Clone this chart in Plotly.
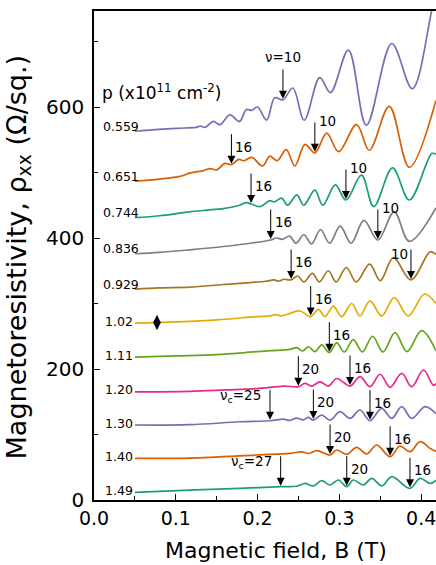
import numpy as np
import plotly.graph_objects as go

# ---------------- data ----------------
p_labels = ["0.559", "0.651", "0.744", "0.836", "0.929", "1.02", "1.11", "1.20", "1.30", "1.40", "1.49"]

B0 = [0.050, 0.080, 0.110, 0.125, 0.130, 0.136, 0.146, 0.154, 0.166, 0.178, 0.186, 0.193, 0.200, 0.211, 0.221, 0.231, 0.243, 0.257, 0.276, 0.289, 0.311, 0.333, 0.364, 0.389, 0.413, 0.425]
R0 = [563, 566, 568, 569, 571, 569, 578, 573, 588, 578, 596, 595, 600, 580, 614, 611, 629, 580, 645, 622, 687, 572, 697, 628, 748, 820]

B1 = [0.050, 0.080, 0.105, 0.117, 0.134, 0.142, 0.150, 0.160, 0.168, 0.177, 0.183, 0.193, 0.206, 0.215, 0.224, 0.235, 0.2455, 0.258, 0.270, 0.2845, 0.299, 0.321, 0.3365, 0.361, 0.3855, 0.418]
R1 = [487, 490, 494, 499, 503, 506, 504, 514, 512, 520, 518, 523, 510, 525, 518, 535, 510, 543, 530, 560, 532, 573, 534, 601, 508, 610]

B2 = [0.050, 0.080, 0.105, 0.117, 0.142, 0.158, 0.178, 0.186, 0.192, 0.203, 0.215, 0.220, 0.2295, 0.2367, 0.248, 0.2564, 0.270, 0.2797, 0.295, 0.308, 0.327, 0.342, 0.365, 0.3855, 0.413, 0.418]
R2 = [431, 434, 438, 440, 443, 445, 450, 454, 452, 448, 457, 455, 461, 450, 466, 450, 473, 450, 481, 458, 496, 448, 507, 458, 529, 528]

B3 = [0.050, 0.080, 0.117, 0.158, 0.191, 0.216, 0.223, 0.2305, 0.239, 0.247, 0.2565, 0.266, 0.277, 0.288, 0.301, 0.3143, 0.330, 0.347, 0.367, 0.3855, 0.418]
R3 = [376, 378, 382, 387, 392, 397, 400, 398, 403, 392, 405, 391, 413, 392, 418, 392, 427, 397, 440, 395, 446]

B4 = [0.050, 0.080, 0.117, 0.158, 0.191, 0.210, 0.220, 0.226, 0.232, 0.241, 0.249, 0.2565, 0.267, 0.2755, 0.2865, 0.296, 0.3085, 0.3205, 0.337, 0.350, 0.366, 0.3875, 0.411, 0.418]
R4 = [322, 324, 325, 329, 332, 334, 336, 334, 337, 336, 342, 333, 346, 333, 350, 333, 355, 333, 360, 335, 370, 336, 379, 375]

B5 = [0.050, 0.100, 0.150, 0.199, 0.215, 0.222, 0.229, 0.2396, 0.2518, 0.2649, 0.2742, 0.2824, 0.2926, 0.3028, 0.315, 0.3252, 0.3374, 0.3517, 0.367, 0.3843, 0.404, 0.418]
R5 = [270, 272, 275, 280, 281, 283, 281, 285, 288.6, 280, 291, 280, 296, 280, 300, 281, 304, 281, 309, 281, 314.5, 300]

B6 = [0.050, 0.100, 0.150, 0.199, 0.216, 0.2396, 0.2478, 0.2551, 0.262, 0.2702, 0.2784, 0.2877, 0.2967, 0.306, 0.317, 0.328, 0.3406, 0.3533, 0.368, 0.3826, 0.4005, 0.418]
R6 = [218, 220, 222, 226.5, 228, 230, 232.6, 227.5, 234, 226.5, 236.7, 225, 240, 226, 245, 226, 250, 226, 255.5, 226.5, 258.5, 228]

B7 = [0.050, 0.117, 0.160, 0.199, 0.232, 0.2498, 0.258, 0.2661, 0.2763, 0.2865, 0.2967, 0.313, 0.3252, 0.3374, 0.3497, 0.362, 0.3762, 0.3884, 0.4027, 0.415, 0.418]
R7 = [165, 166, 168, 170, 174, 173, 178, 174, 180.5, 174, 185.5, 174, 188.5, 173, 192, 172, 193.5, 173, 198.5, 175, 178]

B8 = [0.050, 0.117, 0.1785, 0.2152, 0.2315, 0.2395, 0.2475, 0.256, 0.262, 0.2682, 0.2784, 0.2886, 0.3008, 0.313, 0.3252, 0.3374, 0.3517, 0.364, 0.3762, 0.3884, 0.4047, 0.418]
R8 = [114.5, 115, 119.5, 121, 123.5, 121.5, 125, 122.5, 126, 122, 129.7, 122, 134.8, 124.6, 137.4, 121, 140, 124.6, 142.5, 124.6, 142.5, 132]

B9 = [0.050, 0.117, 0.199, 0.240, 0.2535, 0.263, 0.2722, 0.2886, 0.2967, 0.3089, 0.3211, 0.3334, 0.3456, 0.362, 0.374, 0.3863, 0.3986, 0.4108, 0.418]
R9 = [63.6, 64, 68.7, 71.2, 73.5, 71, 75.5, 68.7, 76.3, 69.7, 80.4, 70.2, 84, 66.1, 82.4, 73.8, 89, 78.8, 74]

B10 = [0.050, 0.117, 0.1785, 0.2282, 0.248, 0.258, 0.268, 0.2784, 0.2886, 0.2987, 0.309, 0.317, 0.3293, 0.3395, 0.352, 0.364, 0.3863, 0.3986, 0.411, 0.418]
R10 = [11.7, 15.2, 17.8, 20.3, 21, 25.4, 21.5, 29.5, 22.9, 30.5, 20.3, 30.5, 22.9, 33, 21.5, 35.6, 17.8, 33, 25.4, 30]

B_all = [B0, B1, B2, B3, B4, B5, B6, B7, B8, B9, B10]
R_all = [R0, R1, R2, R3, R4, R5, R6, R7, R8, R9, R10]

# filling-factor arrows: (curve index, field B, label, label placement)
arrows = [
    (0, 0.231, "ν=10", "top"),
    (1, 0.168, "16", "right"),
    (1, 0.270, "10", "right_high"),
    (2, 0.192, "16", "right"),
    (2, 0.308, "10", "right_high"),
    (3, 0.216, "16", "right"),
    (3, 0.347, "10", "right_high"),
    (4, 0.241, "16", "right"),
    (4, 0.3875, "10", "left_high"),
    (5, 0.2649, "16", "right"),
    (6, 0.2877, "16", "right"),
    (7, 0.2498, "20", "right"),
    (7, 0.313, "16", "right"),
    (8, 0.2152, "ν<sub>c</sub>=25", "left"),
    (8, 0.2682, "20", "right"),
    (8, 0.3374, "16", "right"),
    (9, 0.2886, "20", "right"),
    (9, 0.362, "16", "right"),
    (10, 0.2282, "ν<sub>c</sub>=27", "left"),
    (10, 0.309, "20", "right"),
    (10, 0.3863, "16", "right"),
]

diamond_curve = 5
diamond_B = 0.077

x_ticks = [0.0, 0.1, 0.2, 0.3, 0.4]
y_ticks = [0, 200, 400, 600]

# ---------------- styling ----------------
colors = ["#7570b3", "#d95f02", "#1b9e77", "#7f7f7f", "#a6761d", "#e6ab02",
          "#66a61e", "#e7298a", "#7570b3", "#d95f02", "#1b9e77"]
FONT = "DejaVu Sans"

fig = go.Figure()
for i in range(len(B_all)):
    fig.add_trace(go.Scatter(
        x=B_all[i], y=R_all[i], mode="lines",
        line=dict(color=colors[i], width=1.7, shape="spline", smoothing=1.0),
        hoverinfo="skip", showlegend=False))

fig.add_trace(go.Scatter(
    x=[diamond_B], y=[float(np.interp(diamond_B, B_all[diamond_curve], R_all[diamond_curve]))],
    mode="markers", marker=dict(symbol="diamond-tall", size=11, color="black"),
    hoverinfo="skip", showlegend=False))

annotations = []
# curve labels
for i, lab in enumerate(p_labels):
    upper = lab.startswith("0.")
    annotations.append(dict(
        x=B_all[i][0], y=R_all[i][0], xref="x", yref="y", text=lab, showarrow=False,
        xanchor="right", yanchor="middle", xshift=6 if upper else 0, yshift=5 if upper else 2,
        font=dict(family=FONT, size=12.5, color="black")))

L = 32
for ci, b, lab, side in arrows:
    tip = float(np.interp(b, B_all[ci], R_all[ci]))
    annotations.append(dict(
        x=b, y=tip, xref="x", yref="y", text="", showarrow=True,
        ax=0, ay=-L, axref="pixel", ayref="pixel",
        arrowhead=2, arrowsize=1.6, arrowwidth=1, arrowcolor="black", standoff=1))
    if side == "right":
        kw = dict(xanchor="left", yanchor="top", xshift=2, yshift=L - 4)
    elif side == "right_high":
        kw = dict(xanchor="left", yanchor="middle", xshift=2, yshift=L)
    elif side == "left_high":
        kw = dict(xanchor="right", yanchor="middle", xshift=-1, yshift=L - 6)
    elif side == "left":
        kw = dict(xanchor="right", yanchor="middle", xshift=-7, yshift=L - 7)
    else:
        kw = dict(xanchor="center", yanchor="bottom", xshift=0, yshift=L + 1)
    annotations.append(dict(x=b, y=tip, xref="x", yref="y", text=lab, showarrow=False,
                            font=dict(family=FONT, size=13.5, color="black"), **kw))

# density header
annotations.append(dict(
    x=0.0175, y=0.834, xref="paper", yref="paper", xanchor="left", yanchor="middle",
    text="p (x10<sup>11</sup> cm<sup>-2</sup>)", showarrow=False,
    font=dict(family=FONT, size=17, color="black")))
# axis titles
annotations.append(dict(
    x=0.532, y=0, xref="paper", yref="paper", xanchor="center", yanchor="middle", yshift=-50,
    text="Magnetic field, B (T)", showarrow=False,
    font=dict(family=FONT, size=22, color="black")))
annotations.append(dict(
    x=0, y=0.496, xref="paper", yref="paper", xanchor="center", yanchor="middle", xshift=-76,
    text="Magnetoresistivity, ρ<sub>xx</sub> (Ω/sq.)", showarrow=False, textangle=-90,
    font=dict(family=FONT, size=27, color="black")))

fig.update_layout(
    width=436, height=565,
    margin=dict(l=94, r=0, t=11, b=65),
    plot_bgcolor="white", paper_bgcolor="white",
    font=dict(family=FONT, color="black"),
    hovermode=False,
    annotations=annotations,
    xaxis=dict(range=[0, 0.4181], showline=True, linecolor="black", linewidth=1.5, mirror=True,
               ticks="inside", ticklen=6, tickwidth=1.3, tickcolor="black",
               tickvals=x_ticks, ticktext=[f"{v:.1f}" for v in x_ticks],
               ticklabeloverflow="allow",
               minor=dict(ticks="inside", dtick=0.05, tick0=0, ticklen=4, tickwidth=1.2, tickcolor="black"),
               showgrid=False, zeroline=False, tickfont=dict(family=FONT, size=19)),
    yaxis=dict(range=[0, 746.6], showline=True, linecolor="black", linewidth=1.5,
               ticks="inside", ticklen=6, tickwidth=1.3, tickcolor="black",
               tickvals=y_ticks, ticktext=[str(v) for v in y_ticks],
               minor=dict(ticks="inside", dtick=100, tick0=0, ticklen=4, tickwidth=1.2, tickcolor="black"),
               showgrid=False, zeroline=False, tickfont=dict(family=FONT, size=20),
               ticklabelstandoff=4),
)

# remove the default page margin so the figure fills the window exactly; hide the modebar
fig.write_html("out.html",
               config={"displayModeBar": False},
               post_script="document.body.style.margin='0';document.body.style.overflow='hidden';")
